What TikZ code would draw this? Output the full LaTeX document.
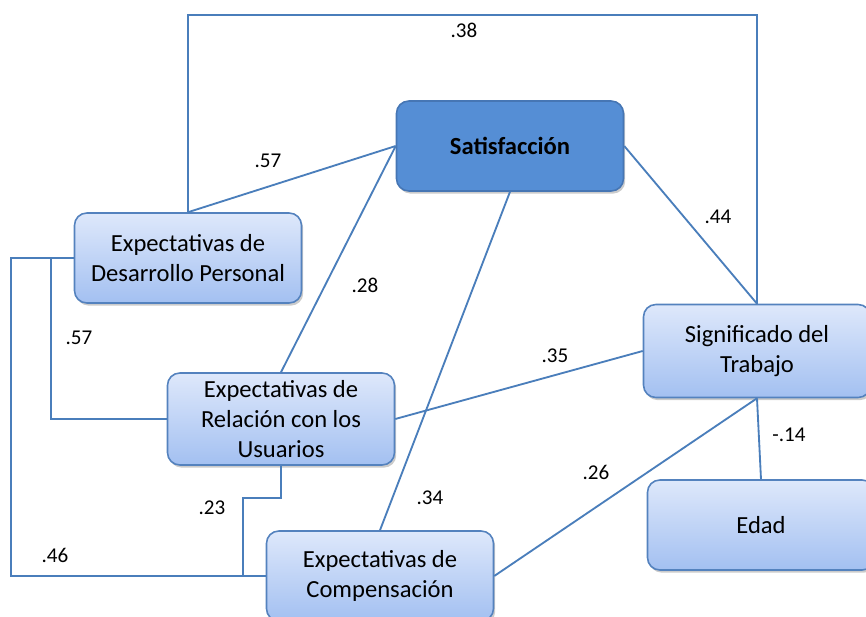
\documentclass[tikz,border=0pt]{standalone}
\usepackage{fontspec}
\setmainfont{Carlito}
\usetikzlibrary{shadows}
\definecolor{linkblue}{RGB}{74,126,187}
\definecolor{boxedge}{RGB}{84,130,190}
\definecolor{boxtop}{RGB}{222,232,251}
\definecolor{boxbot}{RGB}{163,192,241}
\definecolor{satblue}{RGB}{85,142,213}
\definecolor{satedge}{RGB}{70,118,180}

\begin{document}
\begin{tikzpicture}[x=0.02cm, y=-0.02cm,
      every node/.style={font=\fontsize{12}{14}\selectfont},
      link/.style={draw=linkblue, line width=1.05pt},
      boxbase/.style={rounded corners=7pt, line width=0.9pt, align=center,
                      minimum width=4.54cm, minimum height=1.8cm,
                      font=\fontsize{14}{17}\selectfont,
                      drop shadow={shadow xshift=1pt, shadow yshift=-1.5pt,
                                   fill=black!45, opacity=0.45}},
      varbox/.style={boxbase, draw=boxedge, top color=boxtop, bottom color=boxbot},
      satbox/.style={boxbase, draw=satedge, fill=satblue,
                     font=\fontsize{14}{17}\selectfont\bfseries},
      coef/.style={inner sep=1pt},
    ]
    \useasboundingbox (0,0) rectangle (866,617);
    \clip (0,0) rectangle (866,617);

    % ─── Variables ─────────────────────────────────────────────────────
    \node[satbox] (sat)  at (510,146) {Satisfacción};
    \node[varbox] (desa) at (188,258) {Expectativas de\\Desarrollo Personal};
    \node[varbox, minimum height=1.84cm]
                  (rela) at (281,419) {Expectativas de\\Relación con los\\Usuarios};
    \node[varbox] (comp) at (380,576) {Expectativas de\\Compensación};
    \node[varbox, minimum height=1.86cm]
                  (sign) at (757,351) {Significado del\\Trabajo};
    \node[varbox] (edad) at (761,525) {Edad};

    % ─── Routing points for the square paths ───────────────────────────
    \coordinate (top) at (0,15);
    \coordinate (lft) at (11,0);
    \coordinate (mid) at (51,0);
    \coordinate (jn)  at (243,498);

    % ─── Straight links ────────────────────────────────────────────────
    \draw[link] (desa.north) -- (sat.west);
    \draw[link] (sat.west) -- (rela.north);
    \draw[link] (sat.south) -- (comp.north);
    \draw[link] (sat.east) -- (sign.north);
    \draw[link] (rela.east) -- (sign.west);
    \draw[link] (sign.south) -- (comp.east);
    \draw[link] (sign.south) -- (edad.north);

    % ─── Square links ──────────────────────────────────────────────────
    \draw[link] (desa.north) -- (desa.north |- top) -- (sign.north |- top) -- (sign.north);
    \draw[link] (desa.west) -- (desa.west -| lft) -- (comp.west -| lft) -- (comp.west);
    \draw[link] (desa.west -| mid) |- (rela.west);
    \draw[link] (rela.south) |- (jn) |- (comp.west);

    % ─── Coefficients ──────────────────────────────────────────────────
    \node[coef] (c38) at (464,30)  {.38};
    \node[coef] (c57a) at (268,161) {.57};
    \node[coef] (c44) at (718,217) {.44};
    \node[coef] (c28) at (365,285) {.28};
    \node[coef] (c57b) at (79,338)  {.57};
    \node[coef] (c35) at (555,356) {.35};
    \node[coef] (c14) at (789,435) {-.14};
    \node[coef] (c26) at (596,472) {.26};
    \node[coef] (c34) at (430,498) {.34};
    \node[coef] (c23) at (212,508) {.23};
    \node[coef] (c46) at (55,555)  {.46};

  \end{tikzpicture}
\end{document}
